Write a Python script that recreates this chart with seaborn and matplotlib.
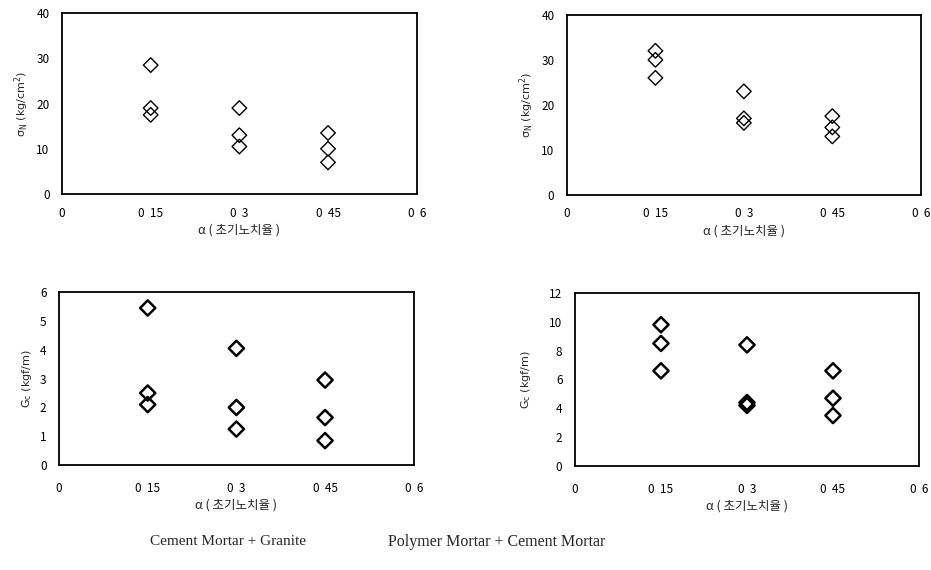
#!/usr/bin/env python3
"""Initial notch ratio vs. strength / fracture energy, two material pairs."""
import pandas as pd
import seaborn as sns
import matplotlib.pyplot as plt

ALPHA = [0.15, 0.15, 0.15, 0.3, 0.3, 0.3, 0.45, 0.45, 0.45]

# sigma_N (kg/cm^2)
SIGMA_CG = [28.5, 19.0, 17.5, 19.0, 13.0, 10.5, 13.5, 10.0, 7.0]
SIGMA_PC = [32.0, 30.0, 26.0, 23.0, 17.0, 16.0, 17.5, 15.0, 13.0]
# Gc (kgf/m)
GC_CG = [5.45, 2.5, 2.1, 4.05, 2.0, 1.25, 2.95, 1.65, 0.85]
GC_PC = [9.8, 8.5, 6.6, 8.4, 4.4, 4.2, 6.6, 4.7, 3.5]

X_TICKS = [0, 0.15, 0.3, 0.45, 0.6]
X_TICKLABELS = ['0', '0  15', '0  3', '0  45', '0  6']
X_LABEL = 'α ( 초기노치율 )'
Y_SIGMA = r'$\mathrm{\sigma_N}$ (kg/cm$^2$)'
Y_GC = r'$\mathrm{G_c}$ (kgf/m)'
CAPTIONS = ['Cement Mortar + Granite', 'Polymer Mortar + Cement Mortar']

sns.set_theme(style='white')
plt.rcParams['font.family'] = ['Noto Sans CJK KR', 'DejaVu Sans']
plt.rcParams['axes.unicode_minus'] = False
plt.rcParams['mathtext.fontset'] = 'dejavusans'

fig = plt.figure(figsize=(9.31, 5.70), dpi=100)

panels = [
    # (rect, y values, ylim, yticks, ylabel, marker size, marker lw, xpad, ylabelpad)
    ([0.0666, 0.6596, 0.381, 0.3175], SIGMA_CG, 40, range(0, 41, 10), Y_SIGMA, 55, 1.0, 9, 4),
    ([0.609, 0.658, 0.380, 0.316], SIGMA_PC, 40, range(0, 41, 10), Y_SIGMA, 55, 1.0, 9, 4),
    ([0.0634, 0.184, 0.381, 0.3035], GC_CG, 6, range(0, 7), Y_GC, 60, 1.8, 12, 4),
    ([0.6176, 0.1825, 0.3695, 0.3035], GC_PC, 12, range(0, 13, 2), Y_GC, 60, 1.8, 12, 12),
]

for rect, yvals, ymax, yticks, ylabel, size, lw, xpad, ylp in panels:
    ax = fig.add_axes(rect)
    df = pd.DataFrame({'alpha': ALPHA, 'y': yvals})
    sns.scatterplot(data=df, x='alpha', y='y', marker='D', s=size,
                    facecolor='none', edgecolor='black', linewidth=lw, ax=ax)
    ax.set_xlim(0, 0.6)
    ax.set_ylim(0, ymax)
    ax.set_xticks(X_TICKS)
    ax.set_xticklabels(X_TICKLABELS)
    ax.set_yticks(list(yticks))
    ax.tick_params(axis='both', labelsize=8.5, colors='black', length=3,
                   direction='in', width=0.8)
    ax.tick_params(axis='x', pad=xpad)
    ax.tick_params(axis='y', pad=9)
    ax.set_xlabel(X_LABEL, fontsize=9, labelpad=3)
    ax.set_ylabel(ylabel, fontsize=8, family=['DejaVu Sans'], labelpad=ylp)
    for sp in ax.spines.values():
        sp.set_color('black')
        sp.set_linewidth(1.3)

fig.text(0.245, 0.05, CAPTIONS[0], ha='center', va='center', fontsize=11,
         family=['Liberation Serif'])
fig.text(0.534, 0.05, CAPTIONS[1], ha='center', va='center', fontsize=11.5,
         family=['Liberation Serif'])

fig.savefig('out.png', dpi=100)
